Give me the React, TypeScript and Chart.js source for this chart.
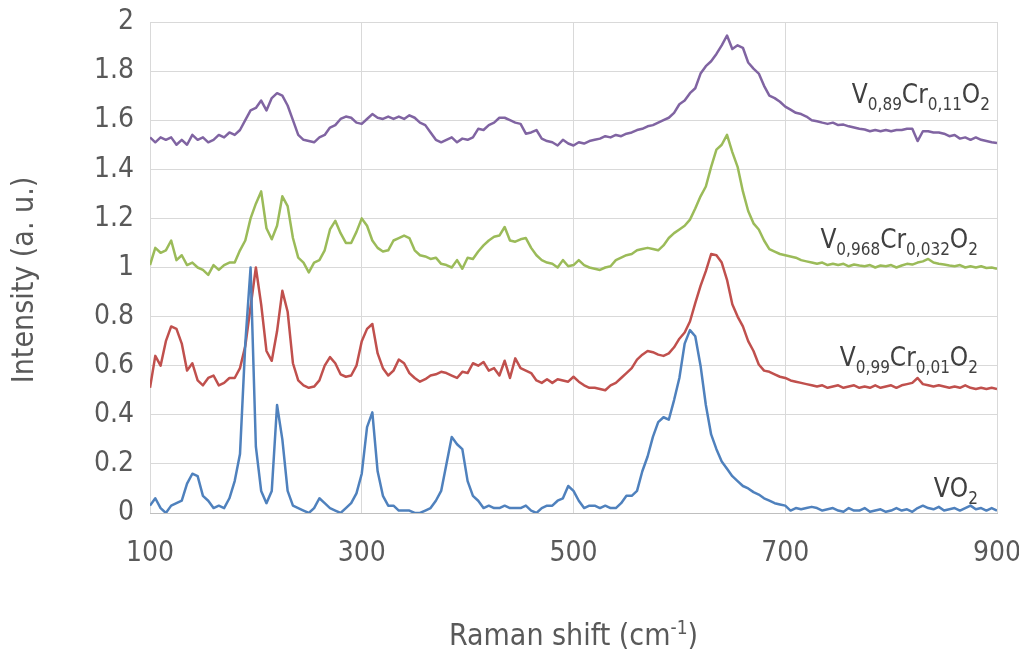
import React, { useEffect, useRef } from "react";
import { Chart, registerables } from "chart.js";

Chart.register(...registerables);

// Raman shift axis (cm-1), step 5
const RAMAN_SHIFT: number[] = [];
for (let v = 100; v <= 900; v += 5) RAMAN_SHIFT.push(v);

const VO2 = [
  0.03, 0.06, 0.02, 0.0, 0.03, 0.04, 0.05, 0.12, 0.16, 0.15,
  0.07, 0.05, 0.02, 0.03, 0.02, 0.06, 0.13, 0.24, 0.69, 1.0,
  0.27, 0.09, 0.04, 0.09, 0.44, 0.3, 0.09, 0.03, 0.02, 0.01,
  0.0, 0.02, 0.06, 0.04, 0.02, 0.01, 0.0, 0.02, 0.04, 0.08,
  0.16, 0.35, 0.41, 0.17, 0.07, 0.03, 0.03, 0.01, 0.01, 0.01,
  0.0, 0.0, 0.01, 0.02, 0.05, 0.09, 0.2, 0.31, 0.28, 0.26,
  0.13, 0.07, 0.05, 0.02, 0.03, 0.02, 0.02, 0.03, 0.02, 0.02,
  0.02, 0.03, 0.01, 0.0, 0.02, 0.03, 0.03, 0.05, 0.06, 0.11,
  0.09, 0.05, 0.02, 0.03, 0.03, 0.02, 0.03, 0.02, 0.02, 0.04,
  0.07, 0.07, 0.09, 0.17, 0.23, 0.31, 0.37, 0.39, 0.38, 0.46,
  0.55, 0.69, 0.745, 0.72, 0.6, 0.44, 0.32, 0.26, 0.21, 0.18,
  0.15, 0.13, 0.11, 0.1, 0.085, 0.075, 0.06, 0.05, 0.04, 0.035,
  0.03, 0.01, 0.02, 0.015, 0.02, 0.025, 0.02, 0.01, 0.015, 0.02,
  0.01, 0.005, 0.02, 0.01, 0.01, 0.02, 0.005, 0.01, 0.015, 0.005,
  0.01, 0.02, 0.01, 0.015, 0.005, 0.02, 0.03, 0.02, 0.015, 0.025,
  0.01, 0.015, 0.02, 0.01, 0.02, 0.03, 0.015, 0.02, 0.01, 0.02,
  0.01,
];

const V099 = [
  0.51, 0.64, 0.6, 0.7, 0.76, 0.75, 0.69, 0.58, 0.61, 0.54,
  0.52, 0.55, 0.56, 0.52, 0.53, 0.55, 0.55, 0.59, 0.68, 0.84,
  1.0, 0.85, 0.66, 0.62, 0.74, 0.905, 0.82, 0.61, 0.54, 0.52,
  0.51, 0.515, 0.54, 0.6, 0.635, 0.61, 0.565, 0.555, 0.56, 0.6,
  0.7, 0.75, 0.77, 0.65, 0.59, 0.56, 0.58, 0.625, 0.61, 0.57,
  0.55, 0.535, 0.545, 0.56, 0.565, 0.575, 0.57, 0.56, 0.55, 0.575,
  0.57, 0.61, 0.6, 0.615, 0.58, 0.59, 0.56, 0.62, 0.55, 0.63,
  0.59, 0.58, 0.57, 0.54, 0.53, 0.545, 0.53, 0.545, 0.54, 0.535,
  0.555, 0.535, 0.52, 0.51, 0.51, 0.505, 0.5, 0.52, 0.53, 0.55,
  0.57, 0.59, 0.625, 0.645, 0.66, 0.655, 0.645, 0.64, 0.65, 0.675,
  0.71, 0.735, 0.78, 0.855, 0.925, 0.985, 1.055, 1.05, 1.02, 0.95,
  0.85, 0.8, 0.76, 0.7, 0.66, 0.605, 0.58, 0.575, 0.565, 0.555,
  0.55, 0.54, 0.535, 0.53, 0.525, 0.52, 0.515, 0.52, 0.51, 0.515,
  0.52, 0.51, 0.515, 0.52, 0.51, 0.515, 0.51, 0.52, 0.51, 0.515,
  0.52, 0.51, 0.52, 0.525, 0.53, 0.55, 0.525, 0.52, 0.515, 0.52,
  0.515, 0.51, 0.515, 0.51, 0.52, 0.51, 0.505, 0.51, 0.505, 0.51,
  0.505,
];

const V0968 = [
  1.01, 1.08, 1.06, 1.07, 1.11, 1.03, 1.05, 1.01, 1.02, 1.0,
  0.99, 0.97, 1.01, 0.99, 1.01, 1.02, 1.02, 1.07, 1.11, 1.2,
  1.26, 1.31, 1.16, 1.115, 1.17, 1.29, 1.25, 1.12, 1.04, 1.02,
  0.98, 1.02, 1.03, 1.07, 1.155, 1.19, 1.14, 1.1, 1.1, 1.145,
  1.2, 1.17, 1.11, 1.08, 1.065, 1.07, 1.11, 1.12, 1.13, 1.12,
  1.07, 1.05, 1.045, 1.035, 1.04, 1.015, 1.01, 1.0, 1.03, 0.995,
  1.04, 1.035, 1.065, 1.09, 1.11, 1.125, 1.13, 1.165, 1.11, 1.105,
  1.115, 1.12, 1.08, 1.05, 1.03, 1.02, 1.015, 1.0, 1.03, 1.005,
  1.01, 1.03, 1.01, 1.0, 0.995, 0.99, 1.0, 1.005, 1.03, 1.04,
  1.05, 1.055, 1.07, 1.075, 1.08, 1.075, 1.07, 1.09, 1.12, 1.14,
  1.155, 1.17, 1.195, 1.24, 1.29, 1.33, 1.41, 1.48, 1.5, 1.54,
  1.47, 1.41, 1.31, 1.23, 1.18, 1.155, 1.11, 1.075, 1.065, 1.055,
  1.05, 1.045, 1.04, 1.03, 1.025, 1.02, 1.015, 1.02, 1.01, 1.015,
  1.01, 1.015, 1.005, 1.012, 1.008, 1.005, 1.01, 1.0, 1.008, 1.005,
  1.01, 1.0, 1.008, 1.015, 1.012, 1.02, 1.025, 1.035, 1.02, 1.015,
  1.012, 1.008, 1.005, 1.01, 1.0, 1.005, 1.0, 1.005, 0.998, 1.0,
  0.995,
];

const V089 = [
  1.53, 1.51, 1.53, 1.52, 1.53, 1.5, 1.52, 1.5, 1.54, 1.52,
  1.53, 1.51, 1.52, 1.54, 1.53, 1.55, 1.54, 1.56, 1.6, 1.64,
  1.65, 1.68, 1.64, 1.69, 1.71, 1.7, 1.66, 1.6, 1.54, 1.52,
  1.515, 1.51, 1.53, 1.54, 1.57, 1.58, 1.605, 1.615, 1.61, 1.59,
  1.585, 1.605, 1.625, 1.61, 1.605, 1.615, 1.605, 1.615, 1.605, 1.62,
  1.61, 1.59, 1.58, 1.55, 1.52, 1.51, 1.52, 1.53, 1.51, 1.525,
  1.52, 1.53, 1.565, 1.56, 1.58, 1.59, 1.61, 1.61, 1.6, 1.59,
  1.585, 1.545, 1.55, 1.56, 1.525, 1.515, 1.51, 1.497, 1.52, 1.505,
  1.497, 1.51, 1.505, 1.515, 1.52, 1.525, 1.535, 1.53, 1.54, 1.535,
  1.545, 1.55, 1.56, 1.565, 1.575, 1.58, 1.59, 1.6, 1.61, 1.63,
  1.665, 1.68, 1.71, 1.73, 1.79, 1.82, 1.84, 1.87, 1.905, 1.945,
  1.89, 1.905, 1.895, 1.835, 1.81, 1.79, 1.74, 1.7, 1.69, 1.675,
  1.655, 1.643, 1.63, 1.625, 1.615, 1.6, 1.596, 1.59, 1.585, 1.59,
  1.58, 1.582, 1.575, 1.57, 1.565, 1.562, 1.555, 1.56, 1.555, 1.56,
  1.555, 1.56, 1.56, 1.565, 1.565, 1.515, 1.555, 1.555, 1.55, 1.55,
  1.545, 1.535, 1.54, 1.525, 1.53, 1.52, 1.53, 1.52, 1.515, 1.51,
  1.507,
];

const X_TICKS = [100, 300, 500, 700, 900];
const Y_TICKS = [0, 0.2, 0.4, 0.6, 0.8, 1, 1.2, 1.4, 1.6, 1.8, 2];

const SERIES_COLORS = ["#4F81BD", "#C0504D", "#9BBB59", "#8064A2"];

// series labels: [text, isSubscript] parts
const LABELS: { parts: [string, boolean][]; right: number; baseline: number }[] = [
  { parts: [["V", false], ["0,89", true], ["Cr", false], ["0,11", true], ["O", false], ["2", true]], right: 990, baseline: 103 },
  { parts: [["V", false], ["0,968", true], ["Cr", false], ["0,032", true], ["O", false], ["2", true]], right: 978, baseline: 248 },
  { parts: [["V", false], ["0,99", true], ["Cr", false], ["0,01", true], ["O", false], ["2", true]], right: 978, baseline: 366 },
  { parts: [["V", false], ["O", false], ["2", true]], right: 978, baseline: 497 },
];

const FONT = "'Liberation Sans Narrow', 'DejaVu Sans Condensed', 'Open Sans', sans-serif";
const TEXT_COLOR = "#595959";

const annotationPlugin = {
  id: "annotations",
  afterDraw(chart: any) {
    const ctx = chart.ctx as CanvasRenderingContext2D;
    const area = chart.chartArea;
    ctx.save();
    ctx.fillStyle = "#404040";
    for (const lab of LABELS) {
      const mainFont = `26px ${FONT}`;
      const subFont = `17px ${FONT}`;
      let total = 0;
      for (const [t, sub] of lab.parts) {
        ctx.font = sub ? subFont : mainFont;
        total += ctx.measureText(t).width;
      }
      let x = lab.right - total;
      ctx.textAlign = "left";
      ctx.textBaseline = "alphabetic";
      for (const [t, sub] of lab.parts) {
        ctx.font = sub ? subFont : mainFont;
        ctx.fillText(t, x, lab.baseline + (sub ? 7 : 0));
        x += ctx.measureText(t).width;
      }
    }
    ctx.fillStyle = TEXT_COLOR;
    const mainF = `30px ${FONT}`;
    const supF = `19px ${FONT}`;
    const p1 = "Raman shift (cm";
    const p2 = "-1";
    const p3 = ")";
    ctx.font = mainF;
    const w1 = ctx.measureText(p1).width;
    const w3 = ctx.measureText(p3).width;
    ctx.font = supF;
    const w2 = ctx.measureText(p2).width;
    const cx = (area.left + area.right) / 2;
    let x = cx - (w1 + w2 + w3) / 2;
    const by = 645;
    ctx.textAlign = "left";
    ctx.textBaseline = "alphabetic";
    ctx.font = mainF;
    ctx.fillText(p1, x, by);
    x += w1;
    ctx.font = supF;
    ctx.fillText(p2, x, by - 11);
    x += w2;
    ctx.font = mainF;
    ctx.fillText(p3, x, by);
    ctx.save();
    ctx.translate(25, 280);
    ctx.rotate(-Math.PI / 2);
    ctx.font = mainF;
    ctx.textAlign = "center";
    ctx.textBaseline = "middle";
    ctx.fillText("Intensity (a. u.)", 0, 0);
    ctx.restore();
    ctx.restore();
  },
};

export default function App() {
  const ref = useRef<HTMLCanvasElement>(null);
  useEffect(() => {
    if (!ref.current) return;
    const mk = (vals: number[]) => RAMAN_SHIFT.map((x, i) => ({ x, y: vals[i] }));
    const names = ["VO2", "V0,99Cr0,01O2", "V0,968Cr0,032O2", "V0,89Cr0,11O2"];
    const series = [VO2, V099, V0968, V089];
    const chart = new Chart(ref.current, {
      type: "line",
      data: {
        datasets: series.map((s, i) => ({
          label: names[i],
          data: mk(s),
          borderColor: SERIES_COLORS[i],
          backgroundColor: SERIES_COLORS[i],
          borderWidth: 2.5,
          pointRadius: 0,
          tension: 0,
          borderJoinStyle: "round" as const,
          fill: false,
        })),
      },
      options: {
        animation: false,
        responsive: false,
        devicePixelRatio: 1,
        layout: { padding: { top: 22, right: 22, left: 0, bottom: 0 } },
        plugins: { legend: { display: false }, tooltip: { enabled: false } },
        scales: {
          x: {
            type: "linear",
            min: 100,
            max: 900,
            afterBuildTicks: (s: any) => {
              s.ticks = X_TICKS.map((v) => ({ value: v }));
            },
            afterFit: (s: any) => {
              s.height = 140;
              s.paddingLeft = 0;
              s.paddingRight = 0;
            },
            grid: { color: "#D9D9D9", lineWidth: 1, drawTicks: false },
            border: { color: "#BFBFBF", width: 1 },
            ticks: {
              color: TEXT_COLOR,
              font: { family: FONT, size: 28 },
              padding: 24,
              maxRotation: 0,
              callback: (v: any) => String(v),
            },
          },
          y: {
            type: "linear",
            min: 0,
            max: 2,
            afterBuildTicks: (s: any) => {
              s.ticks = Y_TICKS.map((v) => ({ value: v }));
            },
            afterFit: (s: any) => {
              s.width = 150;
              s.paddingTop = 0;
              s.paddingBottom = 0;
            },
            grid: { color: "#D9D9D9", lineWidth: 1, drawTicks: false },
            border: { display: false },
            ticks: {
              color: TEXT_COLOR,
              font: { family: FONT, size: 28 },
              padding: 16,
              callback: (v: any) => String(Math.round(Number(v) * 10) / 10),
            },
          },
        },
      },
      plugins: [annotationPlugin],
    });
    return () => chart.destroy();
  }, []);
  return (
    <div style={{ position: "fixed", left: 0, top: 0, width: 1019, height: 653, background: "#fff" }}>
      <canvas ref={ref} width={1019} height={653} style={{ width: 1019, height: 653, display: "block" }} />
    </div>
  );
}
